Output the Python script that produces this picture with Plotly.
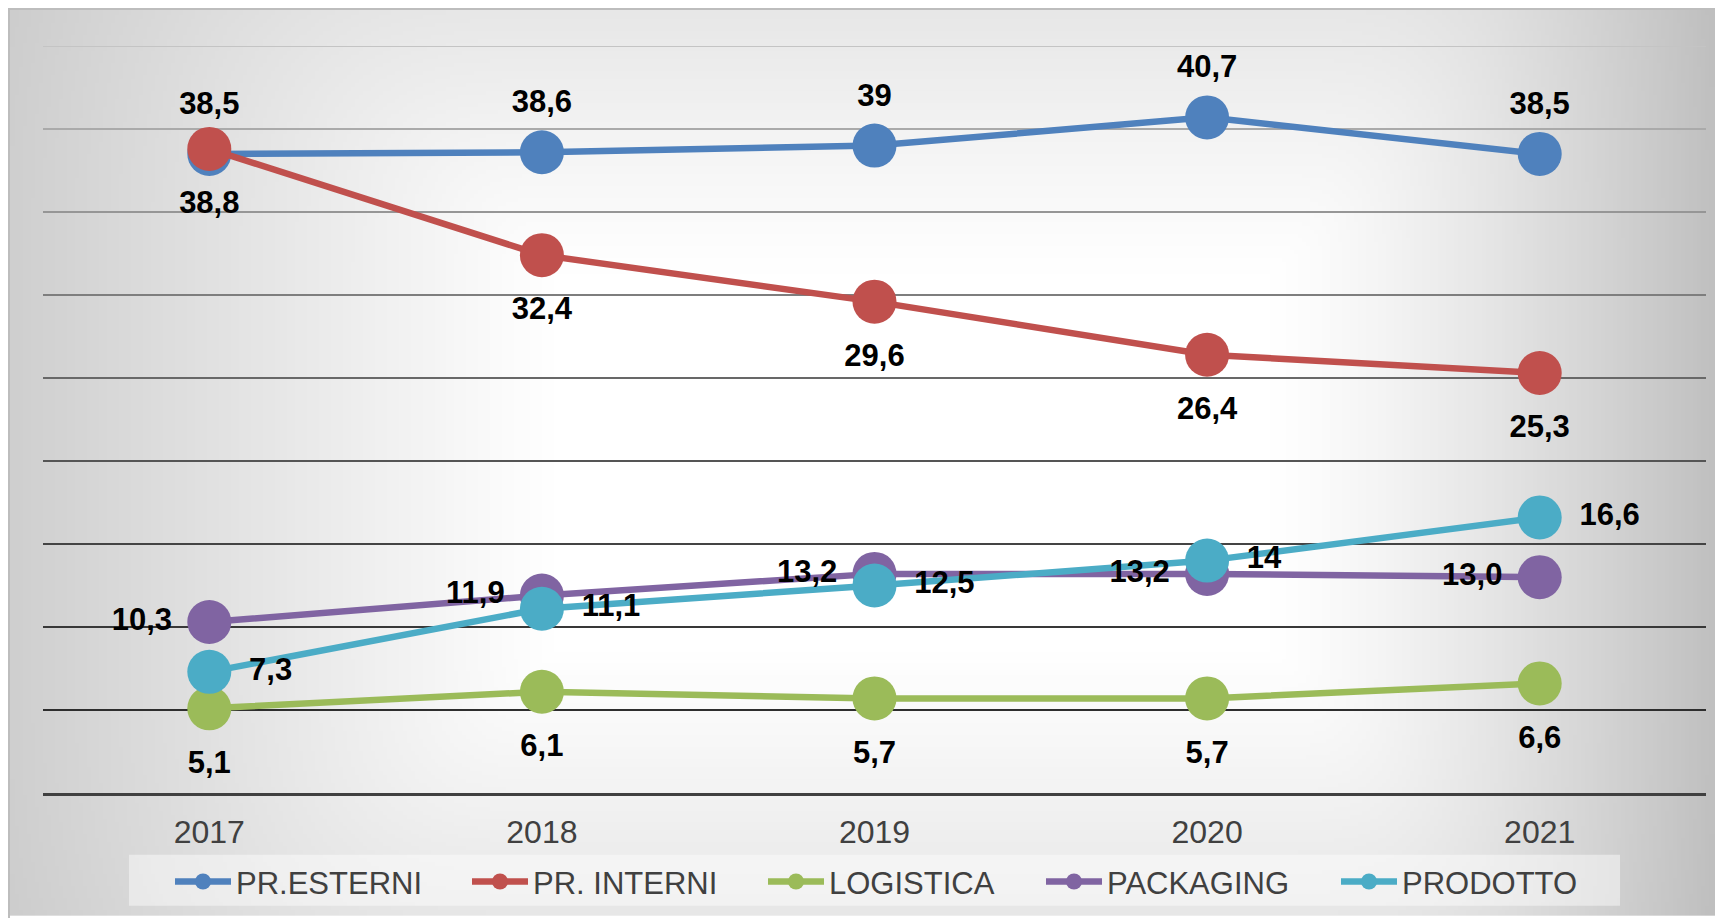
import base64
import struct
import zlib

import numpy as np
import plotly.graph_objects as go

# ---------------- data ----------------
years = ["2017", "2018", "2019", "2020", "2021"]
pr_esterni = [38.5, 38.6, 39.0, 40.7, 38.5]
pr_interni = [38.8, 32.4, 29.6, 26.4, 25.3]
logistica = [5.1, 6.1, 5.7, 5.7, 6.6]
packaging = [10.3, 11.9, 13.2, 13.2, 13.0]
prodotto = [7.3, 11.1, 12.5, 14.0, 16.6]

lbl_esterni = ["38,5", "38,6", "39", "40,7", "38,5"]
lbl_interni = ["38,8", "32,4", "29,6", "26,4", "25,3"]
lbl_logistica = ["5,1", "6,1", "5,7", "5,7", "6,6"]
lbl_packaging = ["10,3", "11,9", "13,2", "13,2", "13,0"]
lbl_prodotto = ["7,3", "11,1", "12,5", "14", "16,6"]

grid_values = [5, 10, 15, 20, 25, 30, 35, 40, 45]

# ---------------- style ----------------
W, H = 1715, 918
ML, MR, MT, MB = 43, 9, 46, 123
PW, PH = W - ML - MR, H - MT - MB
FONT = "Liberation Sans, Arial, Helvetica, sans-serif"

series = [
    ("PR.ESTERNI", pr_esterni, lbl_esterni, "#4F81BD", "top center"),
    ("PR. INTERNI", pr_interni, lbl_interni, "#C0504D", "bottom center"),
    ("LOGISTICA", logistica, lbl_logistica, "#9BBB59", "bottom center"),
    ("PACKAGING", packaging, lbl_packaging, "#8064A2", "middle left"),
    ("PRODOTTO", prodotto, lbl_prodotto, "#4BACC6", "middle right"),
]
# pixel x where each legend entry's symbol starts
legend_px = [175, 472, 768, 1046, 1341]
# invisible marker size used only to push labels away from the points
label_pad = {"top center": 50, "bottom center": 64, "middle left": 58, "middle right": 62}
grid_colors = ["#2e2e2e", "#383838", "#444444", "#555555", "#686868",
               "#7e7e7e", "#969696", "#aaaaaa", "#c4c4c4"]


# ---------------- background gradient image ----------------
def png_gray(arr):
    h, w = arr.shape
    raw = b"".join(b"\x00" + arr[i].tobytes() for i in range(h))

    def chunk(t, d):
        return struct.pack(">I", len(d)) + t + d + struct.pack(">I", zlib.crc32(t + d) & 0xFFFFFFFF)

    return (b"\x89PNG\r\n\x1a\n"
            + chunk(b"IHDR", struct.pack(">IIBBBBB", w, h, 8, 0, 0, 0, 0))
            + chunk(b"IDAT", zlib.compress(raw, 9))
            + chunk(b"IEND", b""))


bx0, by0 = 9, 9
bw, bh = W - bx0, H - by0
iw, ih = 427, 228
X = bx0 + (np.arange(iw) + 0.5) * bw / iw
Y = by0 + (np.arange(ih) + 0.5) * bh / ih
XX, YY = np.meshgrid(X, Y)
cx, cy = 947.0, 462.0
t0 = 0.42
dx = XX - cx
tx = np.where(dx < 0, -dx / (cx - bx0), dx / (W - cx))
ty = np.abs(YY - cy) / 455.0
sx = np.clip((tx - t0) / (1 - t0), 0, None)
sy = np.clip((ty - t0) / (1 - t0), 0, None)
hx = np.where(dx < 0, 48 * sx ** 1.05, 63 * sx ** 1.3)
hy = 24 * sy ** 1.1
drop = (hx ** 3 + hy ** 3) ** (1 / 3)
img = np.clip(255 - drop, 0, 255).astype(np.uint8)
bg_uri = "data:image/png;base64," + base64.b64encode(png_gray(img)).decode()


def px_x(p):
    return (p - ML) / PW


def px_y(p):
    return (H - MB - p) / PH


# ---------------- figure ----------------
fig = go.Figure()

legend_ids = ["legend"] + ["legend%d" % (i + 2) for i in range(len(series) - 1)]

for (name, vals, _, color, _), lid in zip(series, legend_ids):
    fig.add_trace(go.Scatter(
        x=years, y=vals, name=name, mode="lines+markers",
        line=dict(color=color, width=6.5),
        marker=dict(color=color, size=44, line=dict(width=0)),
        hoverinfo="skip", legend=lid,
    ))

for name, vals, labels, color, pos in series:
    fig.add_trace(go.Scatter(
        x=years, y=vals, mode="markers+text", text=labels, textposition=pos,
        textfont=dict(family=FONT, size=31, color="#000000", weight="bold"),
        marker=dict(size=label_pad[pos], color="rgba(0,0,0,0)", line=dict(width=0)),
        showlegend=False, hoverinfo="skip", cliponaxis=False,
    ))

shapes = []
for v, c in zip(grid_values, grid_colors):
    shapes.append(dict(type="line", xref="paper", yref="y", x0=0, x1=1, y0=v, y1=v,
                       line=dict(color=c, width=1.8), layer="below"))
# chart-area border
shapes.append(dict(type="rect", xref="paper", yref="paper",
                   x0=px_x(bx0), x1=px_x(W + 20), y0=px_y(H + 20), y1=px_y(by0),
                   line=dict(color="#bdbdbd", width=2), fillcolor="rgba(0,0,0,0)", layer="below"))
# legend box
shapes.append(dict(type="rect", xref="paper", yref="paper",
                   x0=px_x(129), x1=px_x(1620), y0=px_y(908), y1=px_y(857),
                   line=dict(width=0), fillcolor="rgba(255,255,255,0.45)", layer="below"))

legend_style = dict(orientation="h", xanchor="left", y=px_y(857), yanchor="top",
                    bgcolor="rgba(0,0,0,0)", borderwidth=0,
                    font=dict(family=FONT, size=31, color="#404040"), itemwidth=56)
legends = {lid: dict(legend_style, x=px_x(p - 5)) for lid, p in zip(legend_ids, legend_px)}

fig.update_layout(
    width=W, height=H,
    margin=dict(l=ML, r=MR, t=MT, b=MB, pad=0),
    paper_bgcolor="#ffffff",
    plot_bgcolor="rgba(0,0,0,0)",
    images=[dict(source=bg_uri, xref="paper", yref="paper",
                 x=px_x(bx0), y=px_y(by0),
                 sizex=bw / PW, sizey=bh / PH, sizing="stretch",
                 xanchor="left", yanchor="top", layer="below")],
    shapes=shapes,
    xaxis=dict(type="category", range=[-0.5, 4.5], showgrid=False, zeroline=False,
               showline=True, linecolor="#404040", linewidth=3, ticks="",
               ticklabelstandoff=9,
               tickfont=dict(family=FONT, size=32, color="#404040")),
    yaxis=dict(range=[0, 45], showgrid=False, zeroline=False, showticklabels=False,
               showline=False, ticks=""),
    showlegend=True,
    **legends,
)

fig.write_html(
    "out.html",
    config={"displayModeBar": False},
    post_script="document.body.style.margin='0';document.body.style.overflow='hidden';",
)
